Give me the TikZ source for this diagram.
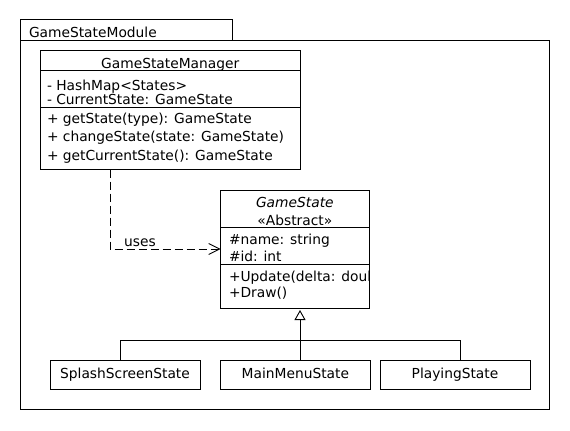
\documentclass[tikz,border=0pt]{standalone}
\usepackage{fontspec}
\setmainfont{DejaVu Sans}
\usetikzlibrary{arrows.meta}
\begin{document}
\begin{tikzpicture}[x=1bp,y=-1bp,line width=0.9bp,
  box/.style={draw,rectangle,anchor=north west,inner sep=0pt,outer sep=0pt},
  txt/.style={inner sep=0pt,outer sep=0pt,anchor=base west,font=\fontsize{13.85}{15}\selectfont},
  ctxt/.style={inner sep=0pt,outer sep=0pt,anchor=base,font=\fontsize{13.85}{15}\selectfont},
  dep/.style={dash pattern=on 8bp off 4bp,-{Straight Barb[length=11bp,width=11bp,line width=0.9bp]}},
  gen/.style={-{Triangle[open,length=10bp,width=11bp,line width=0.9bp]}}]
\fill[white] (0,0) rectangle (570,430);
\useasboundingbox (0,0) rectangle (570,430);
% package
\node[box,minimum width=212bp,minimum height=21bp] (tab) at (20,19) {};
\node[box,minimum width=529bp,minimum height=369bp] (pkg) at (20,40) {};
\node[txt] (pkglbl) at (29,37.5) {GameStateModule};
% GameStateManager
\node[box,minimum width=259.5bp,minimum height=20.2bp] (gsmT) at (40.5,50.5) {};
\node[box,minimum width=259.5bp,minimum height=36.3bp] (gsmA) at (40.5,70.7) {};
\node[box,minimum width=259.5bp,minimum height=62.5bp] (gsmO) at (40.5,107) {};
\node[ctxt] (gsmName) at (170.25,68) {GameStateManager};
\node[txt] (gsmA1) at (47,90) {- HashMap<States>};
\node[txt] (gsmA2) at (47,104.5) {- CurrentState: GameState};
\node[txt] (gsmO1) at (47,123) {+ getState(type): GameState};
\node[txt] (gsmO2) at (47,141.5) {+ changeState(state: GameState)};
\node[txt] (gsmO3) at (47,160) {+ getCurrentState(): GameState};
% GameState
\node[box,minimum width=148.3bp,minimum height=37.3bp] (gsT) at (220.7,190) {};
\node[box,minimum width=148.3bp,minimum height=37bp] (gsA) at (220.7,227.3) {};
\node[box,minimum width=148.3bp,minimum height=43.7bp] (gsO) at (220.7,264.3) {};
\node[ctxt,font=\fontsize{13.85}{15}\selectfont\itshape] (gsName) at (294.85,207) {GameState};
\node[ctxt] (gsStereo) at (294.85,225) {«Abstract»};
\node[txt] (gsA1) at (229,244.5) {\#name: string};
\node[txt] (gsA2) at (229,261.5) {\#id: int};
\begin{scope}
\clip (gsO.north west) rectangle (gsO.south east);
\node[txt] (gsO1) at (229,281) {+Update(delta: double)};
\end{scope}
\node[txt] (gsO2) at (229,297.5) {+Draw()};
% subclasses
\node[box,minimum width=150bp,minimum height=28.3bp] (splash) at (50,360.7) {};
\node[box,minimum width=149.3bp,minimum height=28.3bp] (mainmenu) at (220.7,360.7) {};
\node[box,minimum width=150bp,minimum height=28.3bp] (playing) at (380,360.7) {};
\node[ctxt] (splashL) at (125,378.5) {SplashScreenState};
\node[ctxt] (mainmenuL) at (295.35,378.5) {MainMenuState};
\node[ctxt] (playingL) at (455,378.5) {PlayingState};
% connectors
\draw[dep] ([xshift=69.5bp]gsmO.south west) |- ([yshift=-3.2bp]gsA.west)
  node[pos=0.635,above=1.5bp,inner sep=0pt,font=\fontsize{13.85}{15}\selectfont] (uses) {uses};
\coordinate (junc) at (300,340.7);
\draw[gen] ([xshift=4.65bp]mainmenu.north) -- ([xshift=5.15bp,yshift=-2bp]gsO.south);
\draw ([xshift=-5bp]splash.north) |- (junc) -| ([xshift=5bp]playing.north);
\end{tikzpicture}
\end{document}
